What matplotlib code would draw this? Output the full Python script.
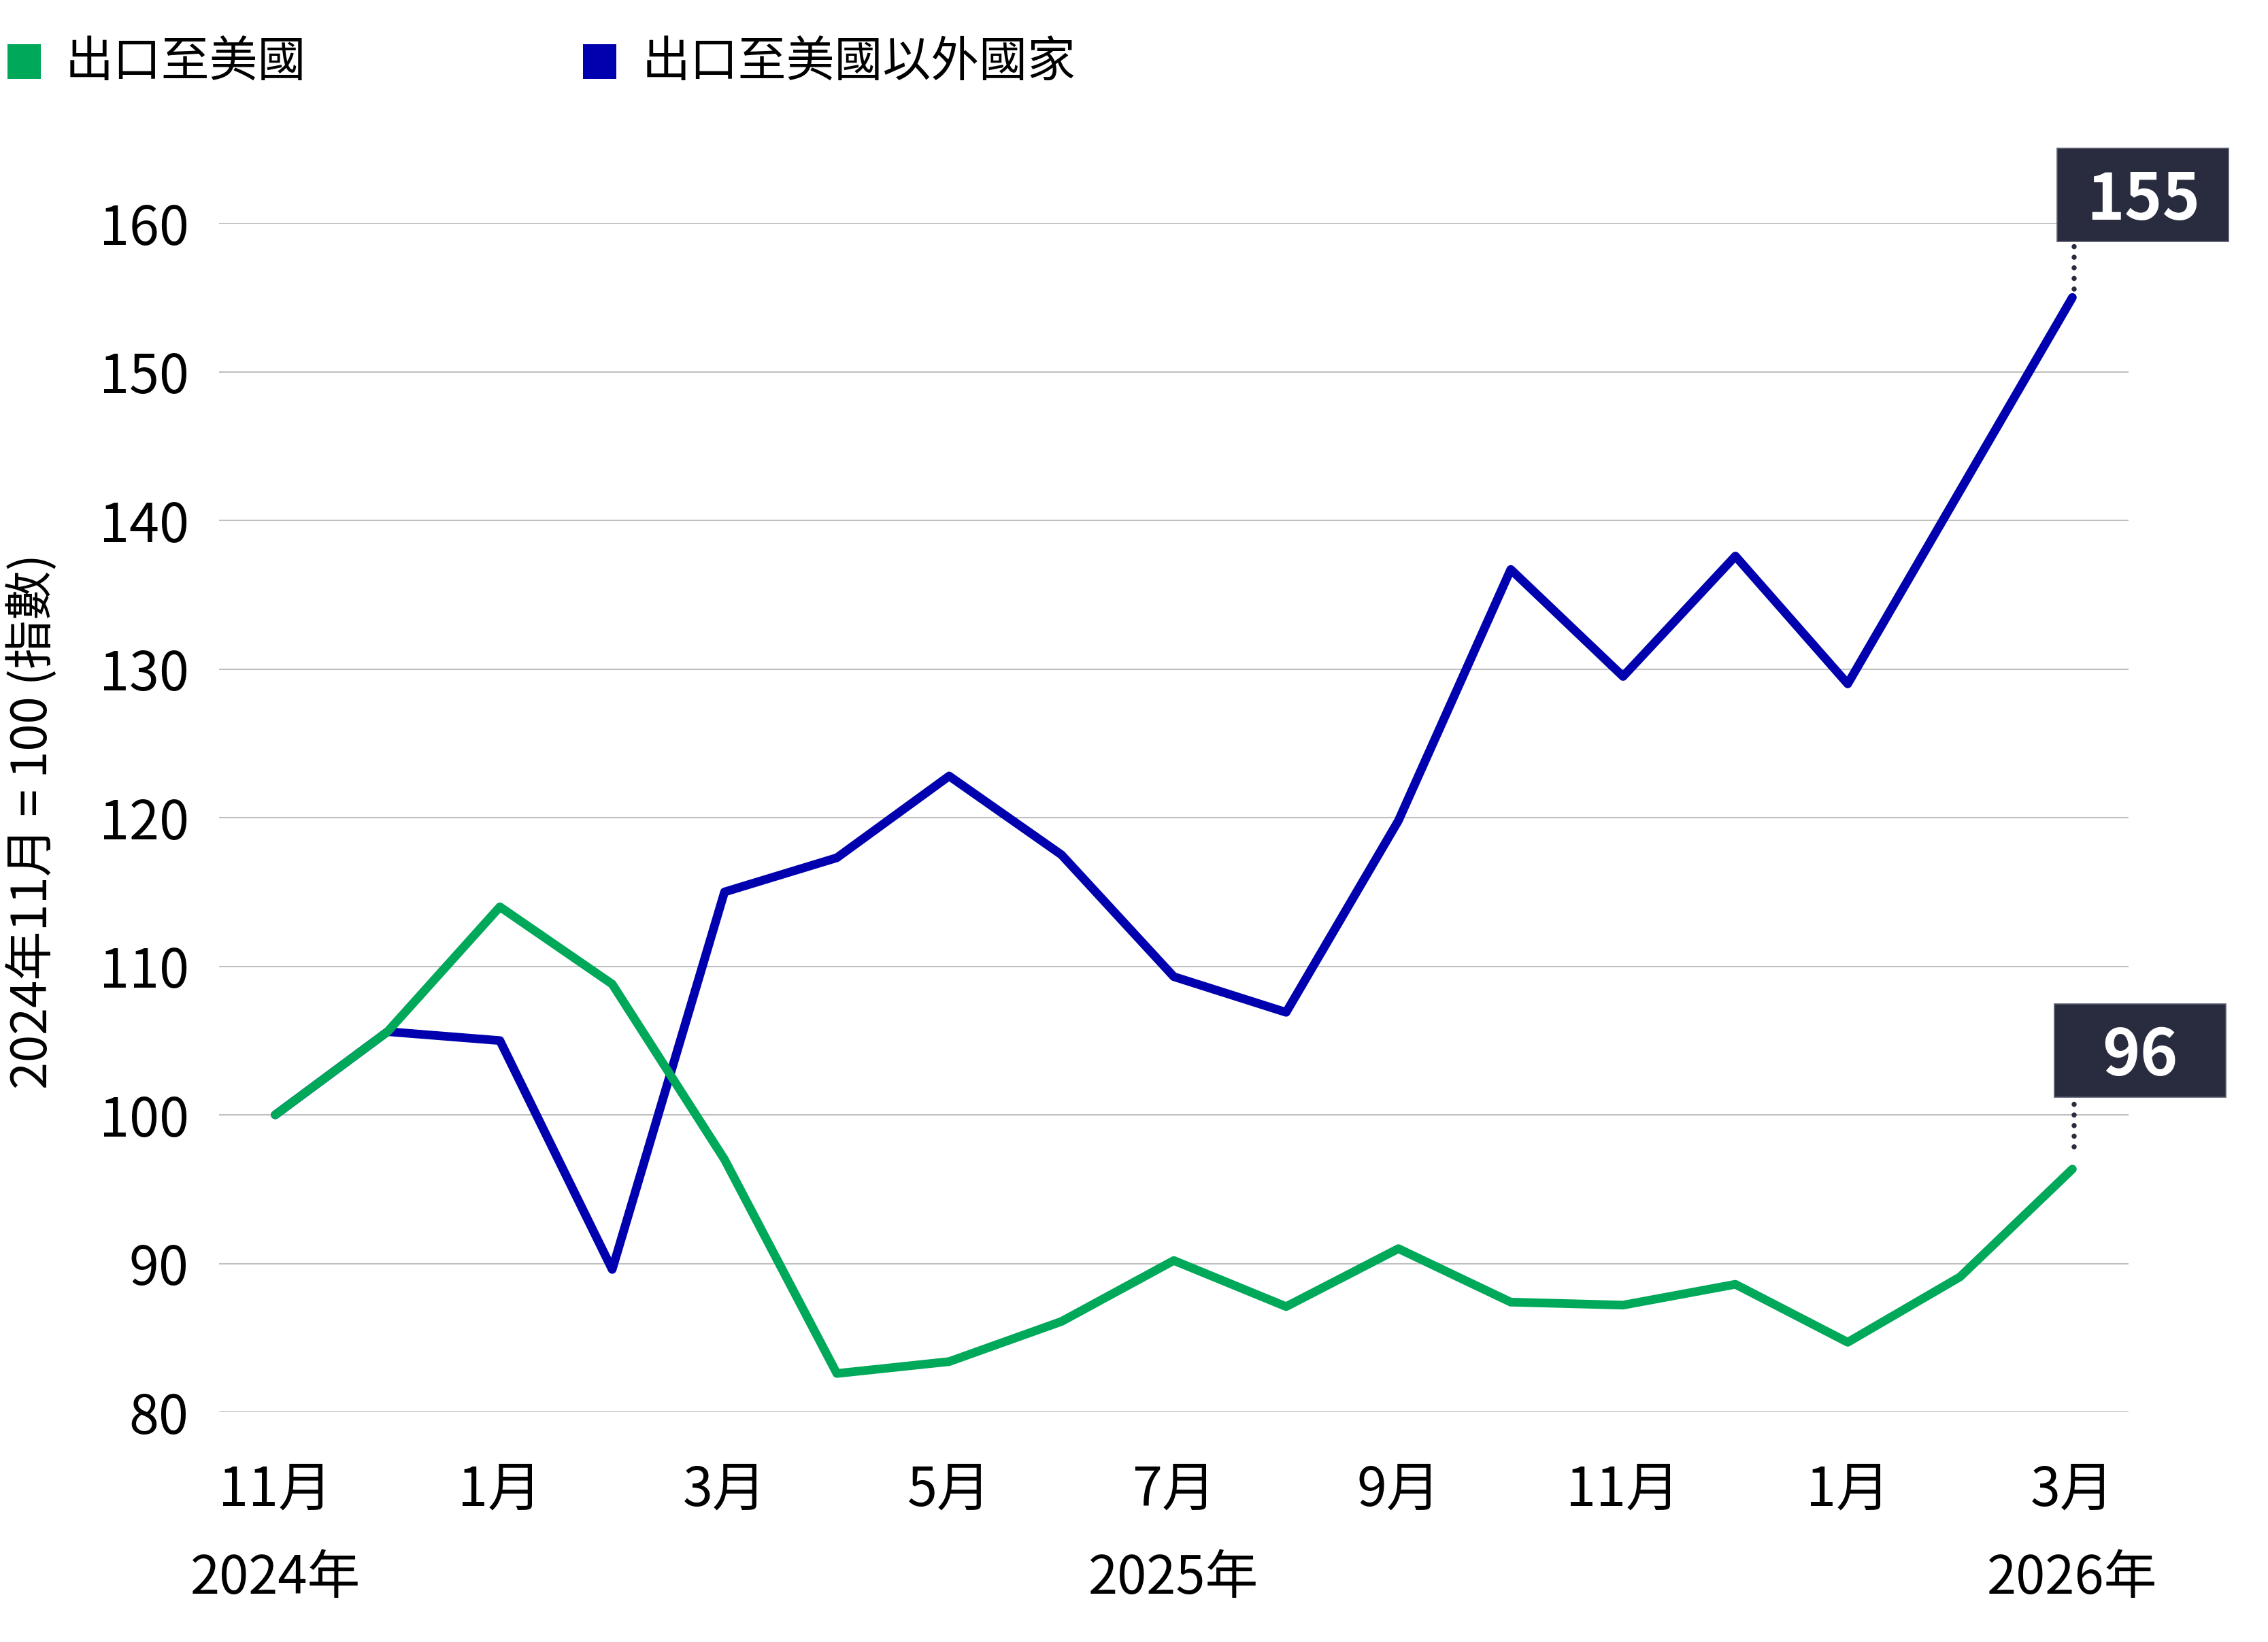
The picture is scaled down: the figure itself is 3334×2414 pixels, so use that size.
import matplotlib
matplotlib.use("Agg")
import matplotlib.pyplot as plt
import matplotlib.transforms as mtransforms
from matplotlib.patches import Rectangle
from matplotlib.lines import Line2D

plt.rcParams['font.family'] = ['Noto Sans CJK TC', 'DejaVu Sans']

# ---- data (index, 2024年11月 = 100) ----
months = ["11月", "12月", "1月", "2月", "3月", "4月", "5月", "6月", "7月",
          "8月", "9月", "10月", "11月", "12月", "1月", "2月", "3月"]
to_us = [100, 105.6, 114.0, 108.8, 97.0, 82.6, 83.4, 86.1, 90.2,
         87.1, 91.0, 87.4, 87.2, 88.6, 84.7, 89.1, 96.35]
to_rest = [100, 105.6, 105.0, 89.6, 115.0, 117.3, 122.8, 117.5, 109.3,
           106.9, 119.8, 136.7, 129.5, 137.6, 129.0, 142.0, 155.0]
series_names = ["出口至美國", "出口至美國以外國家"]
tick_idx = [0, 2, 4, 6, 8, 10, 12, 14, 16]
year_idx = [0, 8, 16]
year_labels = ["2024年", "2025年", "2026年"]
y_ticks = [80, 90, 100, 110, 120, 130, 140, 150, 160]
end_labels = ["96", "155"]

GREEN = "#00a859"
BLUE = "#0000af"
BOX = "#292c3f"

DPI = 200
fig = plt.figure(figsize=(3334 / DPI, 2414 / DPI), dpi=DPI)
ax = fig.add_axes([0.0966, 0.1400, 0.8419, 0.7241])

x = list(range(len(months)))
ax.plot(x, to_rest, color=BLUE, lw=4.6, solid_capstyle="round",
        solid_joinstyle="round", zorder=3)
ax.plot(x, to_us, color=GREEN, lw=4.6, solid_capstyle="round",
        solid_joinstyle="round", zorder=4)

ax.set_xlim(-0.5, 16.5)
ax.set_ylim(80, 160)
ax.set_yticks(y_ticks)
ax.set_xticks(tick_idx)
ax.set_xticklabels([months[i] for i in tick_idx])
ax.tick_params(axis="both", length=0, labelsize=28.5)
ax.tick_params(axis="y", pad=16)
ax.tick_params(axis="x", pad=27)
ax.grid(axis="y", color="#c0c0c0", lw=0.75)
ax.set_axisbelow(True)
for s in ax.spines.values():
    s.set_visible(False)

for i, lab in zip(year_idx, year_labels):
    ax.text(i, -0.1405, lab, transform=ax.get_xaxis_transform(),
            ha="center", va="center", fontsize=28)

ax.set_ylabel("2024年11月 = 100 (指數)", fontsize=26, va="center")
ax.yaxis.set_label_coords(-0.098, 0.497)

# ---- end-value callouts (offsets in pixels from the last point) ----
callouts = [
    (to_us[-1], end_labels[0], -26, 106, 33),
    (to_rest[-1], end_labels[1], -22, 82, 12),
]
for val, lab, dx, dy, gap in callouts:
    tr = fig.dpi_scale_trans + mtransforms.ScaledTranslation(x[-1], val, ax.transData)
    ax.add_artist(Line2D([0.015, 0.015], [gap / DPI, (dy - 4) / DPI], transform=tr,
                         color=BOX, lw=2.7, ls=(0, (0.01, 2.07)),
                         dash_capstyle="round", clip_on=False, zorder=5))
    ax.add_patch(Rectangle((dx / DPI, dy / DPI), 252 / DPI, 137 / DPI, transform=tr,
                           facecolor=BOX, edgecolor="#5a5d6e", lw=0.6,
                           clip_on=False, zorder=6))
    ax.text((dx + 126) / DPI, (dy + 60) / DPI, lab, transform=tr, ha="center",
            va="center", color="white", fontsize=34, fontweight="bold",
            clip_on=False, zorder=7)

# ---- legend ----
W, H = 3334, 2414
for (x0, tx), col, name in zip([(11, 96), (857, 944)], [GREEN, BLUE], series_names):
    fig.add_artist(Rectangle((x0 / W, 1 - 116 / H), 49 / W, 51 / H,
                             transform=fig.transFigure, facecolor=col, edgecolor="none"))
    fig.text(tx / W, 1 - 92 / H, name, ha="left", va="center", fontsize=25.5)

fig.savefig("out.png", dpi=DPI)
